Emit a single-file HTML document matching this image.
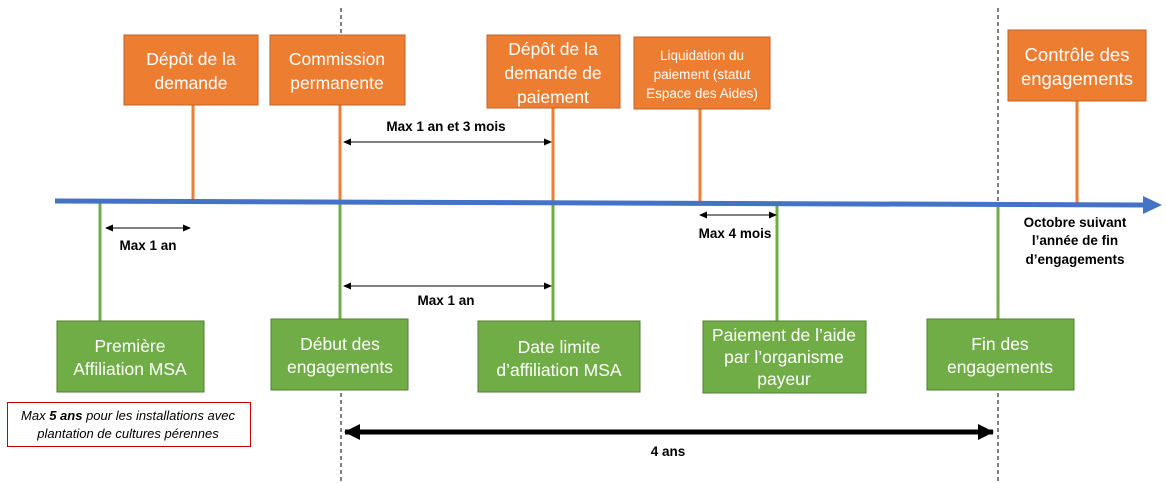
<!DOCTYPE html>
<html><head><meta charset="utf-8"><style>
html,body{margin:0;padding:0;background:#fff}
svg{display:block}
.b{font-family:"Liberation Sans",sans-serif;fill:#fff;font-size:17.5px;text-anchor:middle}
.l{font-family:"Liberation Sans",sans-serif;fill:#000;font-size:13.5px;font-weight:bold;text-anchor:middle}
</style></head><body>
<svg width="1166" height="483" viewBox="0 0 1166 483" xmlns="http://www.w3.org/2000/svg">
<defs>
<marker id="a" markerWidth="8" markerHeight="8" refX="7" refY="4" orient="auto-start-reverse" markerUnits="userSpaceOnUse"><path d="M0,0.5 L8,4 L0,7.5z" fill="#000"/></marker>
<marker id="t" markerWidth="16" markerHeight="16" refX="15" refY="8" orient="auto-start-reverse" markerUnits="userSpaceOnUse"><path d="M0,0 L16,8 L0,16z" fill="#000"/></marker>
</defs>
<line x1="341" y1="8" x2="341" y2="483" stroke="#000" stroke-dasharray="4,3" stroke-width="1"/>
<line x1="998" y1="8" x2="998" y2="483" stroke="#000" stroke-dasharray="4,3" stroke-width="1"/>
<g stroke="#ED7D31" stroke-width="3">
<line x1="193" y1="105" x2="193" y2="201"/>
<line x1="340" y1="105" x2="340" y2="201"/>
<line x1="553" y1="108" x2="553" y2="202"/>
<line x1="700" y1="109" x2="700" y2="203"/>
<line x1="1077" y1="101" x2="1077" y2="204"/>
</g>
<g stroke="#70AD47" stroke-width="3">
<line x1="100" y1="202" x2="100" y2="321"/>
<line x1="340" y1="202" x2="340" y2="319"/>
<line x1="553" y1="203" x2="553" y2="321"/>
<line x1="777" y1="204" x2="777" y2="321"/>
<line x1="998" y1="205" x2="998" y2="319"/>
</g>
<line x1="55" y1="201" x2="1145" y2="205" stroke="#4472C4" stroke-width="5"/>
<path d="M1143,196 L1162,205 L1143,214z" fill="#4472C4"/>
<g fill="#ED7D31" stroke="#C0622A" stroke-width="1">
<rect x="124" y="35" width="134" height="70"/>
<rect x="270" y="35" width="135" height="70"/>
<rect x="487" y="35" width="133" height="73"/>
<rect x="634" y="37" width="136" height="72"/>
<rect x="1008" y="30" width="138" height="71"/>
</g>
<text class="b" x="191" y="65">Dépôt de la</text><text class="b" x="191" y="89">demande</text>
<text class="b" x="337" y="65">Commission</text><text class="b" x="337" y="89">permanente</text>
<text class="b" x="553" y="55">Dépôt de la</text><text class="b" x="553" y="79">demande de</text><text class="b" x="553" y="103">paiement</text>
<text class="b" x="702" y="60" style="font-size:13.5px">Liquidation du</text><text class="b" x="702" y="79" style="font-size:13.5px">paiement (statut</text><text class="b" x="702" y="98" style="font-size:13.5px">Espace des Aides)</text>
<text class="b" x="1077" y="61" style="font-size:18.5px">Contrôle des</text><text class="b" x="1077" y="85" style="font-size:18.5px">engagements</text>
<g fill="#70AD47" stroke="#507E32" stroke-width="1">
<rect x="57" y="321" width="147" height="71"/>
<rect x="271" y="319" width="137" height="71"/>
<rect x="478" y="321" width="162" height="71"/>
<rect x="703" y="321" width="163" height="72"/>
<rect x="927" y="319" width="147" height="71"/>
</g>
<text class="b" x="130" y="352">Première</text><text class="b" x="130" y="375">Affiliation MSA</text>
<text class="b" x="340" y="350">Début des</text><text class="b" x="340" y="373">engagements</text>
<text class="b" x="559" y="353">Date limite</text><text class="b" x="559" y="376">d’affiliation MSA</text>
<text class="b" x="784" y="341">Paiement de l’aide</text><text class="b" x="784" y="363">par l’organisme</text><text class="b" x="784" y="385">payeur</text>
<text class="b" x="1000" y="350">Fin des</text><text class="b" x="1000" y="373">engagements</text>
<g stroke="#000" stroke-width="1">
<line x1="106" y1="228" x2="190" y2="228" marker-start="url(#a)" marker-end="url(#a)"/>
<line x1="344" y1="142" x2="551" y2="142" marker-start="url(#a)" marker-end="url(#a)"/>
<line x1="344" y1="286" x2="551" y2="286" marker-start="url(#a)" marker-end="url(#a)"/>
<line x1="700" y1="215" x2="776" y2="215" marker-start="url(#a)" marker-end="url(#a)"/>
</g>
<line x1="345" y1="432" x2="993" y2="432" stroke="#000" stroke-width="5" marker-start="url(#t)" marker-end="url(#t)"/>
<text class="l" x="148" y="250">Max 1 an</text>
<text class="l" x="446" y="131">Max 1 an et 3 mois</text>
<text class="l" x="446" y="305">Max 1 an</text>
<text class="l" x="735" y="238">Max 4 mois</text>
<text class="l" x="668" y="456">4 ans</text>
<text class="l" x="1075" y="227">Octobre suivant</text>
<text class="l" x="1075" y="245">l’année de fin</text>
<text class="l" x="1075" y="264">d’engagements</text>
<rect x="7.5" y="402.5" width="243" height="44" fill="#fff" stroke="#C00000" stroke-width="1"/>
<text x="128" y="420" font-family="Liberation Sans,sans-serif" font-size="13" font-style="italic" text-anchor="middle">Max <tspan font-weight="bold">5 ans</tspan> pour les installations avec</text>
<text x="128" y="438" font-family="Liberation Sans,sans-serif" font-size="13" font-style="italic" text-anchor="middle">plantation de cultures pérennes</text>
</svg>
</body></html>
